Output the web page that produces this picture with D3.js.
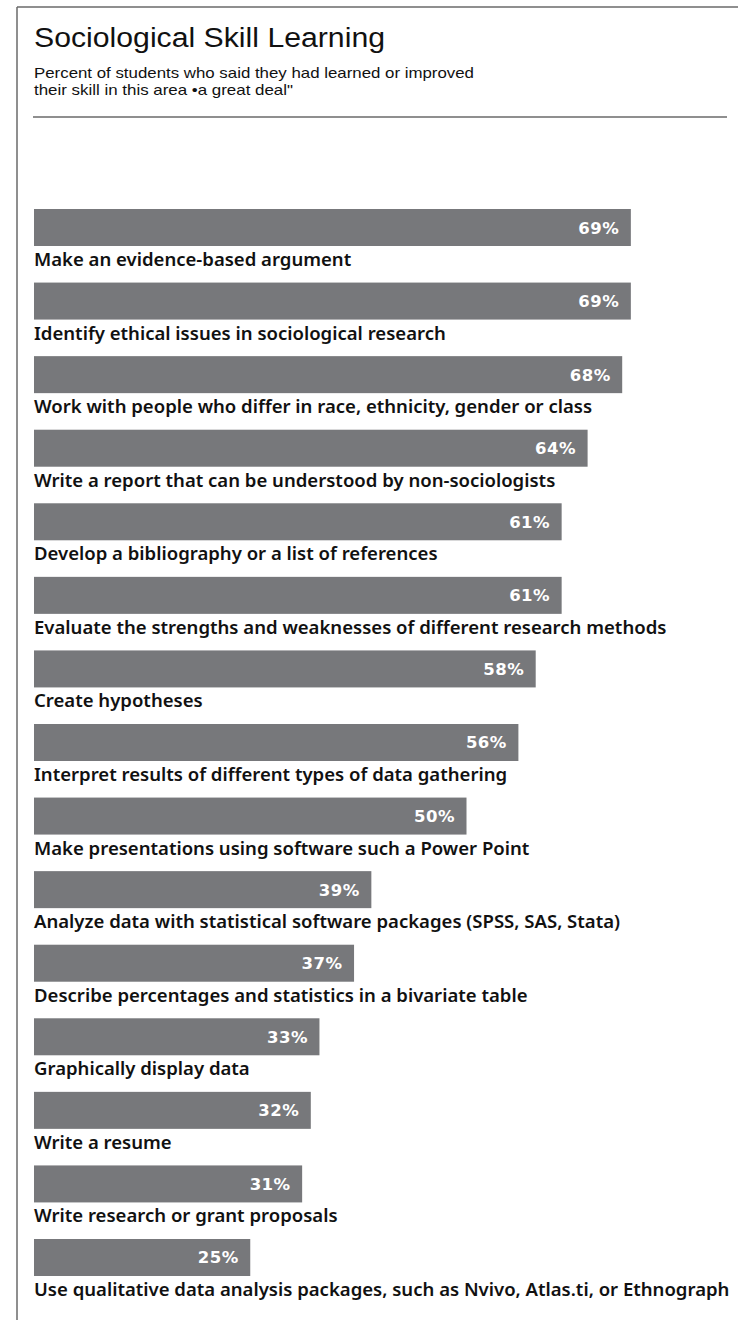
<!DOCTYPE html>
<html>
<head>
<meta charset="utf-8">
<script src="https://cdn.jsdelivr.net/npm/d3@7"></script>
<style>
  body { margin: 0; background: #fff; }
</style>
</head>
<body>
<div id="content"></div>
<script>
// Chart data.
var categories = [
  "Make an evidence-based argument",
  "Identify ethical issues in sociological research",
  "Work with people who differ in race, ethnicity, gender or class",
  "Write a report that can be understood by non-sociologists",
  "Develop a bibliography or a list of references",
  "Evaluate the strengths and weaknesses of different research methods",
  "Create hypotheses",
  "Interpret results of different types of data gathering",
  "Make presentations using software such a Power Point",
  "Analyze data with statistical software packages (SPSS, SAS, Stata)",
  "Describe percentages and statistics in a bivariate table",
  "Graphically display data",
  "Write a resume",
  "Write research or grant proposals",
  "Use qualitative data analysis packages, such as Nvivo, Atlas.ti, or Ethnograph"
];
var values = [69, 69, 68, 64, 61, 61, 58, 56, 50, 39, 37, 33, 32, 31, 25];

var title = "Sociological Skill Learning";
var subtitle = [
  "Percent of students who said they had learned or improved",
  "their skill in this area \u2022a great deal\""
];

// SVG dimensions.
var width = 738, height = 1320;
var left = 34;

var svg = d3.select('#content')
              .append('svg')
              .attr('width', width)
              .attr('height', height);

// Frame: top and left border.
svg.append('line')
    .attr('x1', 17).attr('x2', width)
    .attr('y1', 7).attr('y2', 7)
    .attr('stroke', '#6a6a6a').attr('stroke-width', 1.5);
svg.append('line')
    .attr('x1', 17).attr('x2', 17)
    .attr('y1', 7).attr('y2', height)
    .attr('stroke', '#6a6a6a').attr('stroke-width', 1.5);

// Header.
svg.append('text')
    .attr('x', left).attr('y', 47)
    .attr('font-family', 'Liberation Sans, Arial, sans-serif')
    .attr('font-size', 27)
    .attr('fill', '#111')
    .attr('textLength', 351)
    .attr('lengthAdjust', 'spacingAndGlyphs')
    .text(title);

var subLengths = [440, 259];
svg.selectAll('text.sub')
    .data(subtitle)
    .enter().append('text')
    .attr('class', 'sub')
    .attr('x', left)
    .attr('y', function(d, i) { return 78 + i * 16.5; })
    .attr('font-family', 'Liberation Sans, Arial, sans-serif')
    .attr('font-size', 14.5)
    .attr('fill', '#111')
    .attr('textLength', function(d, i) { return subLengths[i]; })
    .attr('lengthAdjust', 'spacingAndGlyphs')
    .text(function(d) { return d; });

svg.append('line')
    .attr('x1', 33).attr('x2', 727)
    .attr('y1', 117).attr('y2', 117)
    .attr('stroke', '#6a6a6a').attr('stroke-width', 1.5);

// Scales.
var xScale = d3.scaleLinear().domain([0, 100]).range([0, 865]);
var yScale = d3.scaleBand()
                 .domain(categories)
                 .range([209, 1276])
                 .paddingInner(1 - 37 / 73.57)
                 .paddingOuter(0);

var g = svg.append('g').attr('transform', 'translate(' + left + ',0)');

var rows = g.selectAll('g.row')
    .data(categories)
    .enter().append('g')
    .attr('class', 'row')
    .attr('transform', function(d) { return 'translate(0,' + yScale(d) + ')'; });

// Bars.
rows.append('rect')
    .attr('x', 0)
    .attr('y', 0)
    .attr('width', function(d, i) { return xScale(values[i]); })
    .attr('height', yScale.bandwidth())
    .attr('fill', '#77787b');

// Value labels inside the bar end.
rows.append('text')
    .attr('x', function(d, i) { return xScale(values[i]) - 11.5; })
    .attr('y', yScale.bandwidth() / 2 + 6)
    .attr('text-anchor', 'end')
    .attr('font-family', 'DejaVu Sans, sans-serif')
    .attr('font-weight', 'bold')
    .attr('font-size', 16.5)
    .attr('letter-spacing', 0.5)
    .attr('fill', '#fff')
    .text(function(d, i) { return values[i] + '%'; });

// Category labels below each bar.
var labels = rows.append('text')
    .attr('class', 'cat')
    .attr('x', 0)
    .attr('y', 57)
    .attr('font-family', 'Noto Sans, sans-serif')
    .attr('font-weight', 600)
    .attr('font-size', 17.5)
    .attr('fill', '#111')
    .text(function(d) { return d; });

// Squeeze labels so the longest one spans the same width as the original.
var longest = d3.max(labels.nodes(), function(n) { return n.getComputedTextLength(); });
var k = 696 / longest;
labels.attr('transform', 'scale(' + k + ',1)');
</script>
</body>
</html>
